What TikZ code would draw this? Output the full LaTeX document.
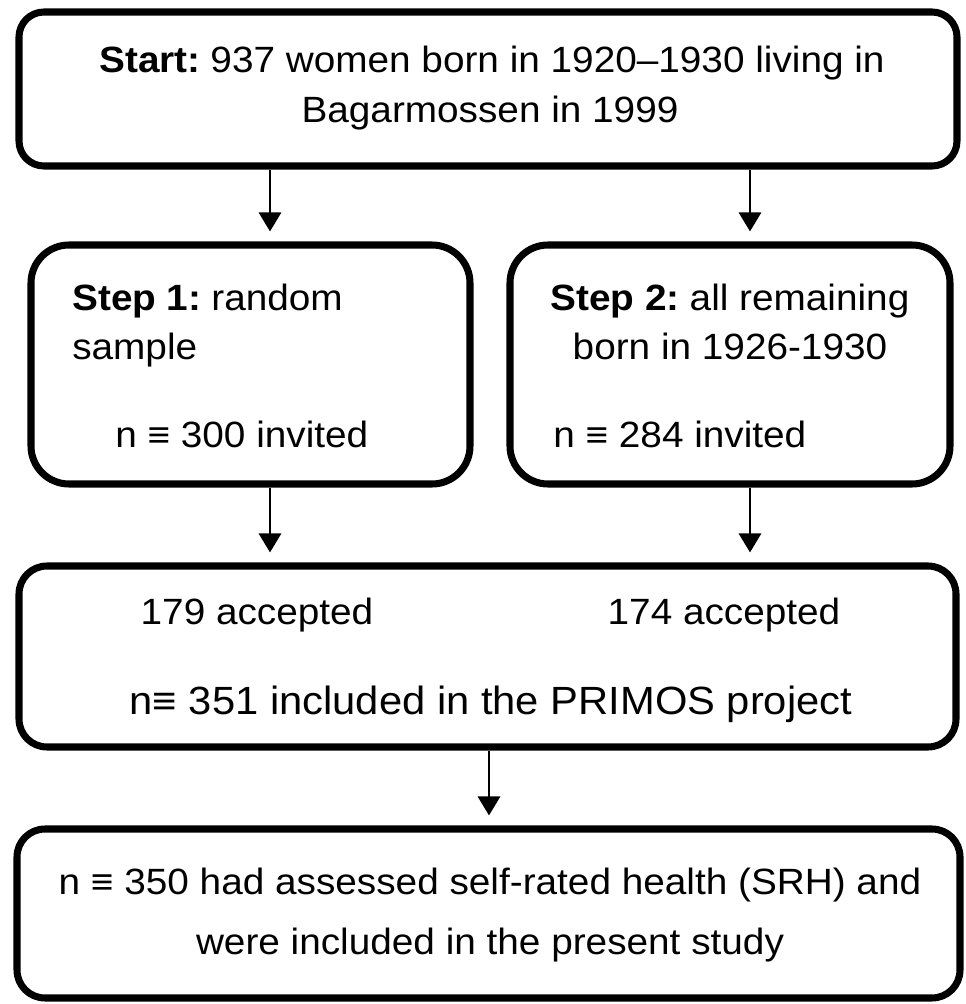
\documentclass[tikz,border=0pt]{standalone}
\usepackage{fontspec}
\setmainfont{Liberation Sans}[FakeStretch=1.06]
\usetikzlibrary{arrows.meta, positioning, calc}

\begin{document}
\begin{tikzpicture}[
  box/.style={draw=black, line width=5pt, rounded corners=#1, inner sep=0pt},
  box/.default=0.7cm,
  txt/.style={font=\fontsize{26}{31}\selectfont, inner sep=0pt},
  bigtxt/.style={txt, font=\fontsize{28}{33}\selectfont},
  arr/.style={line width=2.1pt, -{Triangle[width=0.55cm, length=0.475cm]}, shorten >=0.25cm}
]
  \useasboundingbox (0,0) rectangle (24.15,25.1);

  % start
  \node[box=0.625cm, minimum width=23.45cm, minimum height=3.85cm] (start) at (12.2,22.875) {};
  \node[txt, anchor=base] (startA) at (12.3,23.275) {\textbf{Start:}\hspace{-0.12em} 937 women born in 1920–1930 living in};
  \node[txt, anchor=base] (startB) at (12.25,22.025) {Bagarmossen in 1999};

  % step 1
  \node[box=0.95cm, minimum width=10.975cm, minimum height=5.975cm] (step1) at (6.2625,15.9875) {};
  \node[txt, anchor=base west] (s1a) at (1.8,17.325) {\textbf{Step 1:}\hspace{-0.12em} random};
  \node[txt, anchor=base west] (s1b) at (1.8,16.1) {sample};
  \node[txt, anchor=base west] (s1c) at (2.875,13.9) {n ≡ 300 invited};

  % step 2
  \node[box=0.95cm, minimum width=11cm, minimum height=5.975cm] (step2) at (18.25,15.9875) {};
  \node[txt, anchor=base] (s2a) at (18.25,17.325) {\textbf{Step 2:}\hspace{-0.12em} all remaining};
  \node[txt, anchor=base] (s2b) at (18.25,16.1) {born in 1926-1930};
  \node[txt, anchor=base west] (s2c) at (13.825,13.9) {n ≡ 284 invited};

  % included
  \node[box, minimum width=23.425cm, minimum height=4.525cm] (incl) at (12.1875,8.6875) {};
  \node[txt, anchor=base] (acc1) at (6.425,9.475) {179 accepted};
  \node[txt, anchor=base] (acc2) at (18.1,9.475) {174 accepted};
  \node[bigtxt, anchor=base] (inclA) at (12.275,7.225) {n≡ 351 included in the PRIMOS project};

  % study
  \node[box, minimum width=23.575cm, minimum height=4.225cm] (study) at (12.2125,2.2625) {};
  \node[txt, anchor=base] (studyA) at (12.25,2.725) {n ≡ 350 had assessed self-rated health (SRH) and};
  \node[txt, anchor=base] (studyB) at (12.25,1.225) {were included in the present study};

  % arrows
  \coordinate (colL) at (6.75,0);
  \coordinate (colR) at (18.75,0);
  \coordinate (colM) at (12.225,0);
  \draw[arr] (start.south -| colL) -- (step1.north -| colL);
  \draw[arr] (start.south -| colR) -- (step2.north -| colR);
  \draw[arr] (step1.south -| colL) -- (incl.north -| colL);
  \draw[arr] (step2.south -| colR) -- (incl.north -| colR);
  \draw[arr] (incl.south -| colM) -- (study.north -| colM);
\end{tikzpicture}
\end{document}
